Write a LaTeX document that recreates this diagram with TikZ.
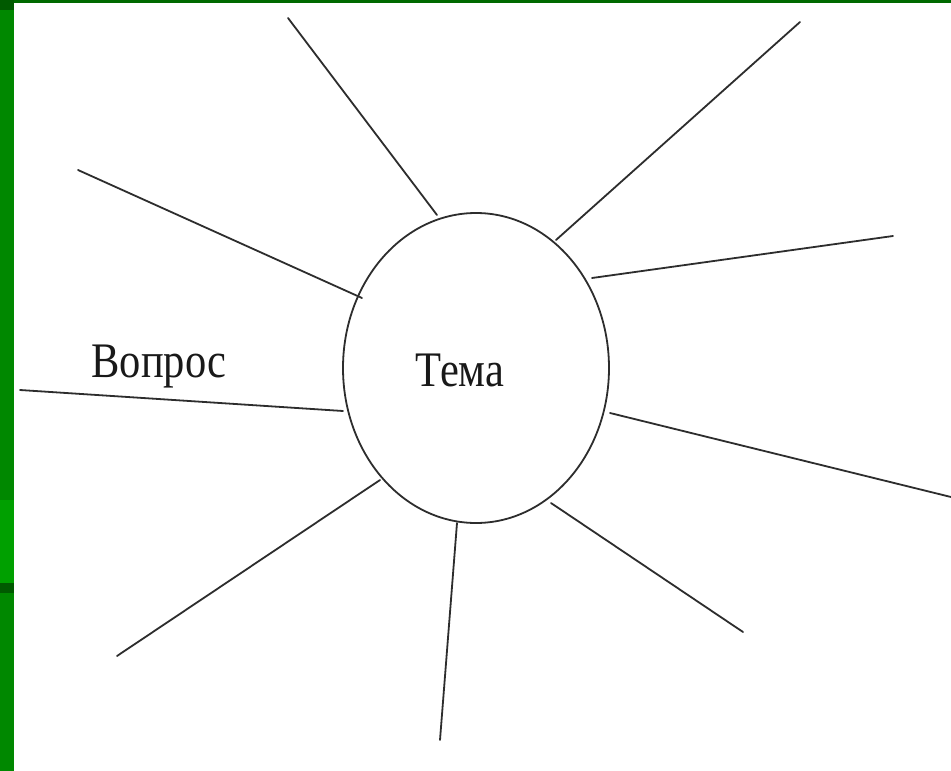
\documentclass[tikz,border=0pt]{standalone}
\usepackage{fontspec}
\setmainfont{Liberation Serif}
\usetikzlibrary{shapes.geometric}
\definecolor{gA}{RGB}{0,136,0}
\definecolor{gB}{RGB}{0,160,0}
\definecolor{gC}{RGB}{0,90,0}
\definecolor{gD}{RGB}{0,105,0}
\definecolor{ink}{RGB}{45,45,45}
\newcommand{\tallt}[1]{\scalebox{1}[1.17]{#1}}
\tikzset{ray/.style={draw=ink,line width=1.8pt,line cap=round},
  lbl/.style={inner sep=0pt,text=black!90,font=\fontsize{42.5}{42.5}\selectfont}}
\begin{document}
\begin{tikzpicture}[x=1pt,y=-1pt]
\useasboundingbox (0,0) rectangle (951,771);
\fill[white] (0,0) rectangle (951,771);
\fill[gA] (0,0) rectangle (14,771);
\fill[gB] (0,500) rectangle (14,583);
\fill[gC] (0,583) rectangle (14,593);
\fill[gD] (0,0) rectangle (951,3);
\fill[gC] (0,0) rectangle (14,10);
\node[draw=ink,line width=1.8pt,ellipse,minimum width=266pt,minimum height=310pt,inner sep=0pt] (tema) at (476,368) {};
\node[lbl] (temat) at (460,370) {\tallt{Тема}};
\node[lbl] (vopros) at (159,367) {\tallt{Вопрос}};
\coordinate (a1) at (437,215); \coordinate (b1) at (288,18);
\coordinate (a2) at (556,240); \coordinate (b2) at (800,22);
\coordinate (a3) at (362,298); \coordinate (b3) at (78,170);
\coordinate (a4) at (592,278); \coordinate (b4) at (893,236);
\coordinate (a5) at (343,411); \coordinate (b5) at (20,390);
\coordinate (a6) at (610,413); \coordinate (b6) at (951,497);
\coordinate (a7) at (380,480); \coordinate (b7) at (117,656);
\coordinate (a8) at (457,523); \coordinate (b8) at (440,740);
\coordinate (a9) at (551,503); \coordinate (b9) at (743,632);
\foreach \i in {1,...,9} {\draw[ray] (a\i) -- (b\i);}
\end{tikzpicture}
\end{document}
